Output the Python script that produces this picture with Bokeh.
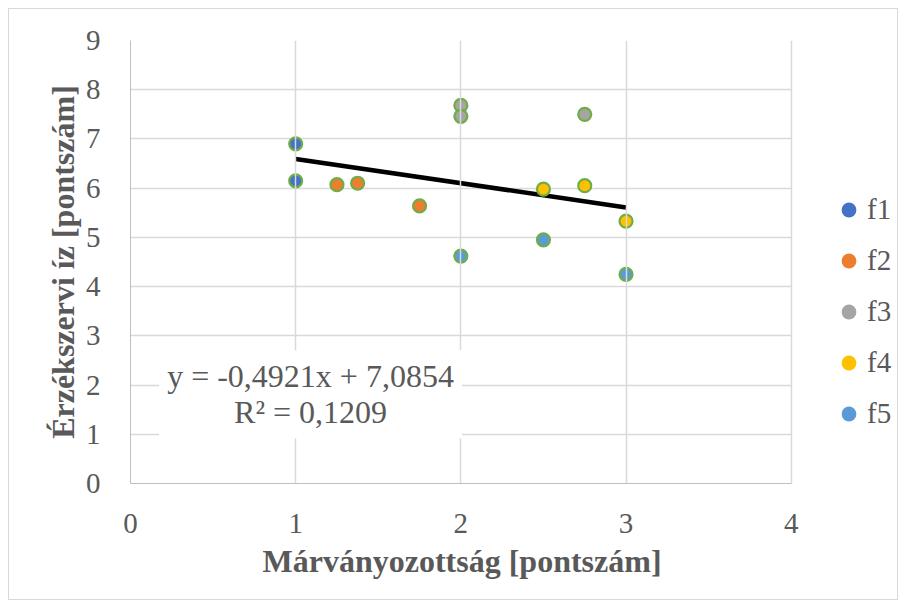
from bokeh.plotting import figure
from bokeh.models import Legend, LegendItem, Label, FixedTicker, Range1d, BoxAnnotation, Title
from bokeh.embed import file_html
from bokeh.resources import INLINE

# ---- data ----
series_names = ["f1", "f2", "f3", "f4", "f5"]
f1_x = [1, 1]
f1_y = [6.9, 6.15]
f2_x = [1.25, 1.375, 1.75]
f2_y = [6.07, 6.1, 5.64]
f3_x = [2, 2, 2.75]
f3_y = [7.68, 7.46, 7.5]
f4_x = [2.5, 2.75, 3]
f4_y = [5.98, 6.05, 5.33]
f5_x = [2, 2.5, 3]
f5_y = [4.62, 4.95, 4.25]
series_colors = ["#4472C4", "#ED7D31", "#A5A5A5", "#FFC000", "#5B9BD5"]

trend_slope = -0.4921
trend_intercept = 7.0854
trend_r2 = 0.1209

x_ticks = [0, 1, 2, 3, 4]
y_ticks = [0, 1, 2, 3, 4, 5, 6, 7, 8, 9]
x_axis_max = 4
y_axis_max = 9

x_title = "Márványozottság [pontszám]"
y_title = "Érzékszervi íz [pontszám]"

FONT = "Liberation Serif"
GRAY = "#595959"
GRID = "#D9D9D9"

# frame extends to the right edge so the legend (outside the 0..4 area) is not clipped
frame_px_left = 121
canvas_w = 888
plot_area_px = 659
x_view_end = x_axis_max * (canvas_w - frame_px_left) / plot_area_px

p = figure(width=890, height=592, output_backend="svg", toolbar_location=None,
           x_range=Range1d(0, x_view_end), y_range=Range1d(0, y_axis_max),
           min_border_left=frame_px_left, min_border_top=31, min_border_bottom=118,
           min_border_right=0)
p.styles = {"border": "1px solid #D9D9D9", "box-sizing": "border-box", "margin": "8px"}
p.outline_line_color = None
p.background_fill_color = "white"
p.border_fill_color = "white"

for ax, ticks in ((p.xaxis, x_ticks), (p.yaxis, y_ticks)):
    ax.ticker = FixedTicker(ticks=ticks)
    ax.major_tick_line_color = None
    ax.minor_tick_line_color = None
    ax.axis_line_color = "#BFBFBF"
    ax.axis_line_width = 1
    ax.major_label_text_font = FONT
    ax.major_label_text_font_size = "29px"
    ax.major_label_text_color = GRAY
    ax.axis_label_text_font = FONT
    ax.axis_label_text_font_size = "32px"
    ax.axis_label_text_font_style = "bold"
    ax.axis_label_text_color = GRAY

p.xaxis.bounds = (0, x_axis_max)
p.yaxis.axis_label = y_title
p.xaxis.major_label_standoff = 24
p.yaxis.major_label_standoff = 24
p.yaxis.axis_label_standoff = 2

# x-axis title centred under the 0..4 plot area
p.add_layout(Title(text=x_title, align="left", offset=132, standoff=10,
                   text_font=FONT, text_font_size="32px", text_font_style="bold",
                   text_color=GRAY), "below")

p.xgrid.ticker = FixedTicker(ticks=x_ticks)
p.ygrid.ticker = FixedTicker(ticks=y_ticks)
p.xgrid.grid_line_color = GRID
p.ygrid.grid_line_color = GRID
p.xgrid.grid_line_width = 1.5
p.ygrid.grid_line_width = 1.5
p.ygrid.level = "underlay"
p.xgrid.level = "glyph"

# white cover over the horizontal grid lines to the right of x = 4
p.add_layout(BoxAnnotation(left=x_axis_max, fill_color="white", fill_alpha=1,
                           line_color=None, level="underlay"))

# trendline
all_x = f1_x + f2_x + f3_x + f4_x + f5_x
tx = [min(all_x), max(all_x)]
ty = [trend_slope * v + trend_intercept for v in tx]
p.line(tx, ty, line_color="black", line_width=4.5)

xs = [f1_x, f2_x, f3_x, f4_x, f5_x]
ys = [f1_y, f2_y, f3_y, f4_y, f5_y]
items = []
for name, sx, sy, col in zip(series_names, xs, ys, series_colors):
    base = p.scatter(sx, sy, size=13, fill_color=col, line_color=None)
    p.scatter(sx, sy, size=13, fill_color=col, line_color="#70AD47", line_width=2.2)
    items.append(LegendItem(label=name, renderers=[base]))

legend = Legend(items=items, location=(700, 51), glyph_width=37, glyph_height=37,
                label_height=37, spacing=14, label_standoff=0, padding=0, margin=0,
                border_line_color=None, background_fill_alpha=0,
                label_text_font=FONT, label_text_font_size="29px", label_text_color=GRAY)
p.add_layout(legend, "center")

eq_text = ("y = " + f"{trend_slope:.4f}".replace(".", ",") + "x + "
           + f"{trend_intercept:.4f}".replace(".", ",") + "\nR² = "
           + f"{trend_r2:.4f}".replace(".", ","))
p.add_layout(Label(x=1.09, y=1.815, text=eq_text, text_align="center", text_baseline="middle",
                   text_font=FONT, text_font_size="32px", text_color=GRAY,
                   text_line_height=1.0,
                   background_fill_color="white", padding=8))

open("out.html", "w").write(file_html(p, INLINE))
